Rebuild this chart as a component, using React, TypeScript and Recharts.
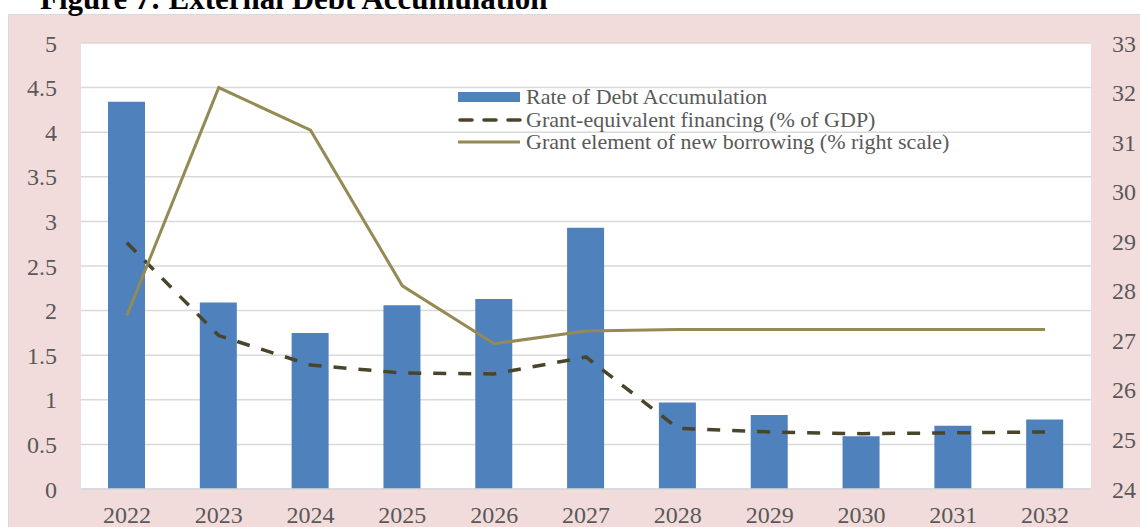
import React from "react";
import {
  ComposedChart,
  Bar,
  Line,
  XAxis,
  YAxis,
  CartesianGrid,
} from "recharts";

const years = ["2022", "2023", "2024", "2025", "2026", "2027", "2028", "2029", "2030", "2031", "2032"];
const debtAccumulation = [4.34, 2.09, 1.75, 2.06, 2.13, 2.93, 0.97, 0.83, 0.59, 0.71, 0.78];
const grantEquivalent = [2.76, 1.72, 1.39, 1.3, 1.29, 1.48, 0.68, 0.64, 0.62, 0.63, 0.64];
const grantElement = [27.5, 32.1, 31.24, 28.1, 26.93, 27.19, 27.22, 27.22, 27.22, 27.22, 27.22];
const leftTicks = [0, 0.5, 1, 1.5, 2, 2.5, 3, 3.5, 4, 4.5, 5];
const rightTicks = [24, 25, 26, 27, 28, 29, 30, 31, 32, 33];

const data = years.map((year, i) => ({
  year,
  debt: debtAccumulation[i],
  equiv: grantEquivalent[i],
  element: grantElement[i],
}));

const FONT = "'Liberation Serif', 'Times New Roman', serif";
const TEXT = "#595959";
const BAR = "#4F81BD";
const DASH = "#4A452A";
const OLIVE = "#948A54";

const tickStyle = { fill: TEXT, fontSize: 24, fontFamily: FONT };

function ChartLegend() {
  const row: React.CSSProperties = {
    display: "flex",
    alignItems: "center",
    height: 22.5,
    fontFamily: FONT,
    fontSize: 22,
    color: TEXT,
    whiteSpace: "nowrap",
  };
  return (
    <div style={{ position: "absolute", left: 458, top: 86 }}>
      <div style={row}>
        <svg width={68} height={12}>
          <rect x={0} y={1} width={62} height={10} fill={BAR} />
        </svg>
        <span>Rate of Debt Accumulation</span>
      </div>
      <div style={row}>
        <svg width={68} height={12}>
          <line x1={2} y1={6} x2={62} y2={6} stroke={DASH} strokeWidth={3.5} strokeDasharray="12 12" strokeLinecap="round" />
        </svg>
        <span>Grant-equivalent financing (% of GDP)</span>
      </div>
      <div style={row}>
        <svg width={68} height={12}>
          <line x1={0} y1={6} x2={62} y2={6} stroke={OLIVE} strokeWidth={3} />
        </svg>
        <span>Grant element of new borrowing (% right scale)</span>
      </div>
    </div>
  );
}

export default function App() {
  return (
    <div
      style={{
        position: "absolute",
        left: 0,
        top: 0,
        width: 1140,
        height: 527,
        overflow: "hidden",
        background: "#fff",
      }}
    >
      <div
        style={{
          position: "absolute",
          left: 8,
          top: 14,
          width: 1132,
          height: 513,
          background: "#F2DCDB",
          borderLeft: "1px solid #d9d9d9",
          borderTop: "1px solid #d9d9d9",
        }}
      />
      <div
        style={{
          position: "absolute",
          left: 40,
          top: -17,
          fontFamily: FONT,
          fontWeight: "bold",
          fontSize: 31,
          lineHeight: 1,
          color: "#000",
          whiteSpace: "nowrap",
        }}
      >
        Figure 7: External Debt Accumulation
      </div>
      <div style={{ position: "absolute", left: 0, top: 0 }}>
        <ComposedChart
          width={1140}
          height={527}
          data={data}
          margin={{ top: 43, right: 0, bottom: 0, left: 8 }}
          barCategoryGap="30%"
        >
          <CartesianGrid vertical={false} stroke="#D9D9D9" strokeWidth={1.5} fill="#FFFFFF" yAxisId="left" />
          <XAxis
            dataKey="year"
            axisLine={{ stroke: "#D9D9D9", strokeWidth: 1.5 }}
            tickLine={false}
            tickSize={0}
            tickMargin={17}
            height={38}
            tick={tickStyle}
            interval={0}
          />
          <YAxis
            yAxisId="left"
            domain={[0, 5]}
            ticks={leftTicks}
            axisLine={false}
            tickLine={false}
            tickSize={0}
            tickMargin={24}
            width={73}
            tick={tickStyle}
          />
          <YAxis
            yAxisId="right"
            orientation="right"
            domain={[24, 33]}
            ticks={rightTicks}
            axisLine={false}
            tickLine={false}
            tickSize={0}
            tickMargin={21}
            width={49}
            tick={tickStyle}
          />
          <Bar yAxisId="left" dataKey="debt" fill={BAR} barSize={37} isAnimationActive={false} />
          <Line
            yAxisId="left"
            dataKey="equiv"
            stroke={DASH}
            strokeWidth={3.5}
            strokeDasharray="13 12"
            dot={false}
            activeDot={false}
            isAnimationActive={false}
          />
          <Line
            yAxisId="right"
            dataKey="element"
            stroke={OLIVE}
            strokeWidth={3}
            dot={false}
            activeDot={false}
            isAnimationActive={false}
          />
        </ComposedChart>
      </div>
      <ChartLegend />
    </div>
  );
}
